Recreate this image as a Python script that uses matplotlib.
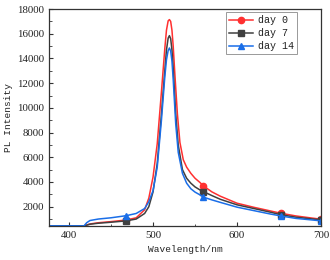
import numpy as np
import matplotlib
matplotlib.use('Agg')
from matplotlib import pyplot as plt
from matplotlib.ticker import MultipleLocator

# wavelength (nm) and PL intensity
wl_d0 = [376, 390, 405, 418, 421, 425, 435, 450, 468, 480, 490, 495, 500, 505, 510,
         514, 516, 518, 519.5, 521, 522.5, 524, 526, 529, 532, 536, 540, 545, 550, 556, 560, 570,
         580, 600, 620, 640, 652, 670, 690, 700]
pl_d0 = [450, 450, 450, 450, 520, 600, 700, 790, 920, 1100, 1750, 2700, 4400, 7100, 11300,
         14800, 16300, 17050, 17150, 17000, 16300, 15000, 12700, 9500, 7200, 5800, 5200, 4700, 4300, 3950, 3680, 3200,
         2850, 2280, 1950, 1650, 1470, 1250, 1070, 985]

wl_d7 = [376, 390, 405, 418, 421, 425, 435, 450, 468, 480, 490, 495, 500, 505, 510,
         514, 516, 518, 519.5, 521, 522.5, 524, 527, 530, 535, 540, 545, 550, 556, 560, 570,
         580, 600, 620, 640, 652, 670, 690, 700]
pl_d7 = [450, 450, 450, 450, 500, 580, 660, 740, 850, 1000, 1450, 2000, 3200, 5500, 9500,
         13000, 14700, 15650, 15850, 15600, 14700, 13200, 9500, 7000, 5000, 4300, 3900, 3600, 3350, 3220, 2900,
         2600, 2150, 1850, 1550, 1350, 1150, 1000, 930]

wl_d14 = [376, 390, 405, 418, 421, 425, 435, 450, 468, 480, 490, 495, 500, 505, 510,
          514, 516, 518, 519.5, 521, 522.5, 524, 527, 530, 535, 540, 545, 550, 556, 560, 570,
          580, 600, 620, 640, 652, 670, 690, 700]
pl_d14 = [450, 450, 450, 450, 700, 880, 1000, 1100, 1270, 1450, 1850, 2400, 3300, 5200, 9000,
          12500, 13900, 14650, 14850, 14600, 13800, 12300, 8700, 6400, 4700, 3900, 3450, 3180, 2950, 2770, 2550,
          2350, 1960, 1680, 1400, 1250, 1050, 920, 850]

labels = ['day 0', 'day 7', 'day 14']
marker_wl = [468, 560, 652, 700]

plt.rcParams['font.family'] = ['Liberation Serif', 'DejaVu Serif']
plt.rcParams['xtick.direction'] = 'in'
plt.rcParams['ytick.direction'] = 'in'

fig = plt.figure(figsize=(3.3, 2.6), dpi=100)
ax = fig.add_axes([0.148, 0.131, 0.825, 0.834])

series = [
    (wl_d0, pl_d0, '#ff3030', 'o'),
    (wl_d7, pl_d7, '#404040', 's'),
    (wl_d14, pl_d14, '#1a6ee8', '^'),
]
for (x, y, c, m), lab in zip(series, labels):
    idx = [x.index(w) for w in marker_wl]
    ax.plot(x, y, color=c, lw=1.1, marker=m, ms=4.5, markevery=idx, label=lab)

ax.set_xlim(376, 700)
ax.set_ylim(440, 18000)
ax.xaxis.set_major_locator(MultipleLocator(100))
ax.xaxis.set_minor_locator(MultipleLocator(50))
ax.yaxis.set_major_locator(MultipleLocator(2000))
ax.yaxis.set_minor_locator(MultipleLocator(1000))
ax.tick_params(which='major', length=3, width=0.8, labelsize=7.8, colors='#333333')
ax.tick_params(which='minor', length=1.8, width=0.6, colors='#333333')
ax.tick_params(labelcolor='#222222')
for s in ax.spines.values():
    s.set_linewidth(0.9)
    s.set_color('#333333')

ax.set_xlabel('Wavelength/nm', family='Liberation Mono', fontsize=6.8, labelpad=4,
              color='#222222')
ax.set_ylabel('PL Intensity', family='Liberation Mono', fontsize=6.8, labelpad=3,
              color='#222222')

leg = ax.legend(loc='upper right', bbox_to_anchor=(0.912, 0.986),
                prop={'family': 'Liberation Mono', 'size': 7.2},
                fancybox=False, edgecolor='#999999', framealpha=1,
                handlelength=2.4, borderpad=0.3, labelspacing=0.3,
                borderaxespad=0, handletextpad=0.5)
leg.get_frame().set_linewidth(0.7)
for t in leg.get_texts():
    t.set_color('#222222')

fig.savefig('out.png', dpi=100)
